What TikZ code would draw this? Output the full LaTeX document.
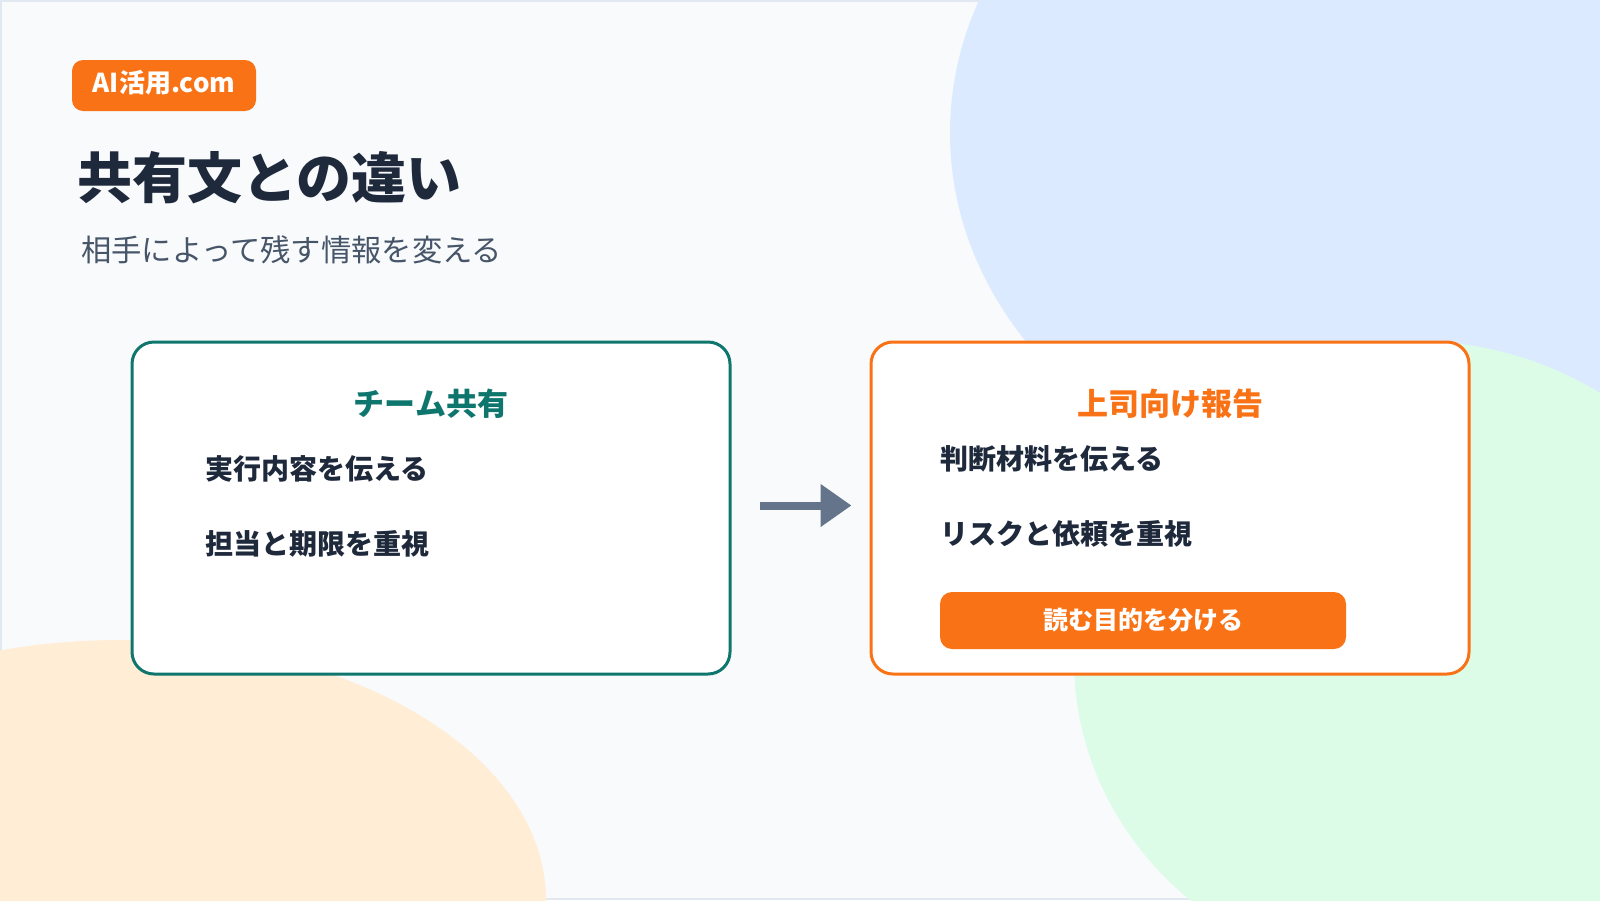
\documentclass[tikz,border=0pt]{standalone}
\usepackage{fontspec}
\setmainfont{Noto Sans CJK JP}
\usetikzlibrary{arrows.meta}
\definecolor{bgc}{HTML}{F8FAFC}
\definecolor{framec}{HTML}{E2E8F0}
\definecolor{blobblue}{HTML}{DBEAFE}
\definecolor{blobgreen}{HTML}{DCFCE7}
\definecolor{blobpeach}{HTML}{FFEDD5}
\definecolor{tealc}{HTML}{0F766E}
\definecolor{orangec}{HTML}{F97316}
\definecolor{darkc}{HTML}{1E293B}
\definecolor{subc}{HTML}{475569}
\definecolor{arrowc}{HTML}{64748B}
\newcommand{\fs}[1]{\fontsize{#1}{#1}\selectfont}
\tikzset{
  card/.style={draw, line width=3pt, fill=white, rounded corners=22pt,
    minimum width=598pt, minimum height=332pt, inner sep=0pt},
  pill/.style={fill=orangec, text=white, rounded corners=11pt, inner sep=0pt, font=\bfseries},
  txt/.style={inner sep=0pt, anchor=west},
  cardtitle/.style={inner sep=0pt, font=\fs{31}\bfseries},
  item/.style={inner sep=0pt, anchor=west, text=darkc, font=\fs{28}\bfseries},
  flowarrow/.style={draw=arrowc, line width=8pt, -{Triangle[length=31pt, width=41pt]}}
}
\begin{document}
\begin{tikzpicture}[x=1pt, y=-1pt]
\useasboundingbox (0,0) rectangle (1600,900);
\fill[bgc] (0,0) rectangle (1600,900);
\draw[framec, line width=2pt] (1,1) rectangle (1599,899);
% background blobs
\fill[blobblue] (1400,133) ellipse [x radius=450, y radius=375];
\fill[blobgreen] (1414,660) ellipse [x radius=340, y radius=319];
\fill[blobpeach] (120,900) ellipse [x radius=426, y radius=260];
% header
\node[pill, minimum width=184pt, minimum height=51pt] (badge) at (164,85.5) {};
\node[inner sep=0pt, text=white, font=\fs{26}\bfseries] (badgetext) at ([yshift=3pt]badge.center) {AI活用.com};
\node[txt, text=darkc, font=\fs{55}\bfseries] (title) at (77,178) {共有文との違い};
\node[txt, text=subc, font=\fs{30.3}] (subtitle) at (81,250) {相手によって残す情報を変える};
% cards
\node[card, draw=tealc] (L) at (431,508) {};
\node[card, draw=orangec] (R) at (1170,508) {};
\node[cardtitle, text=tealc] (Lt) at (431,404) {チーム共有};
\node[item] (L1) at (205,469) {実行内容を伝える};
\node[item] (L2) at (205,544) {担当と期限を重視};
\node[cardtitle, text=orangec] (Rt) at (1170,404) {上司向け報告};
\node[item] (R1) at (940,459) {判断材料を伝える};
\node[item] (R2) at (940,534) {リスクと依頼を重視};
\node[pill, minimum width=406pt, minimum height=57pt, rounded corners=12pt, font=\fs{25}\bfseries] (btn) at (1143,620.5) {読む目的を分ける};
% arrow
\draw[flowarrow] ([xshift=28pt, yshift=2.5pt]L.east) -- ([xshift=-18pt, yshift=2.5pt]R.west);
\end{tikzpicture}
\end{document}
